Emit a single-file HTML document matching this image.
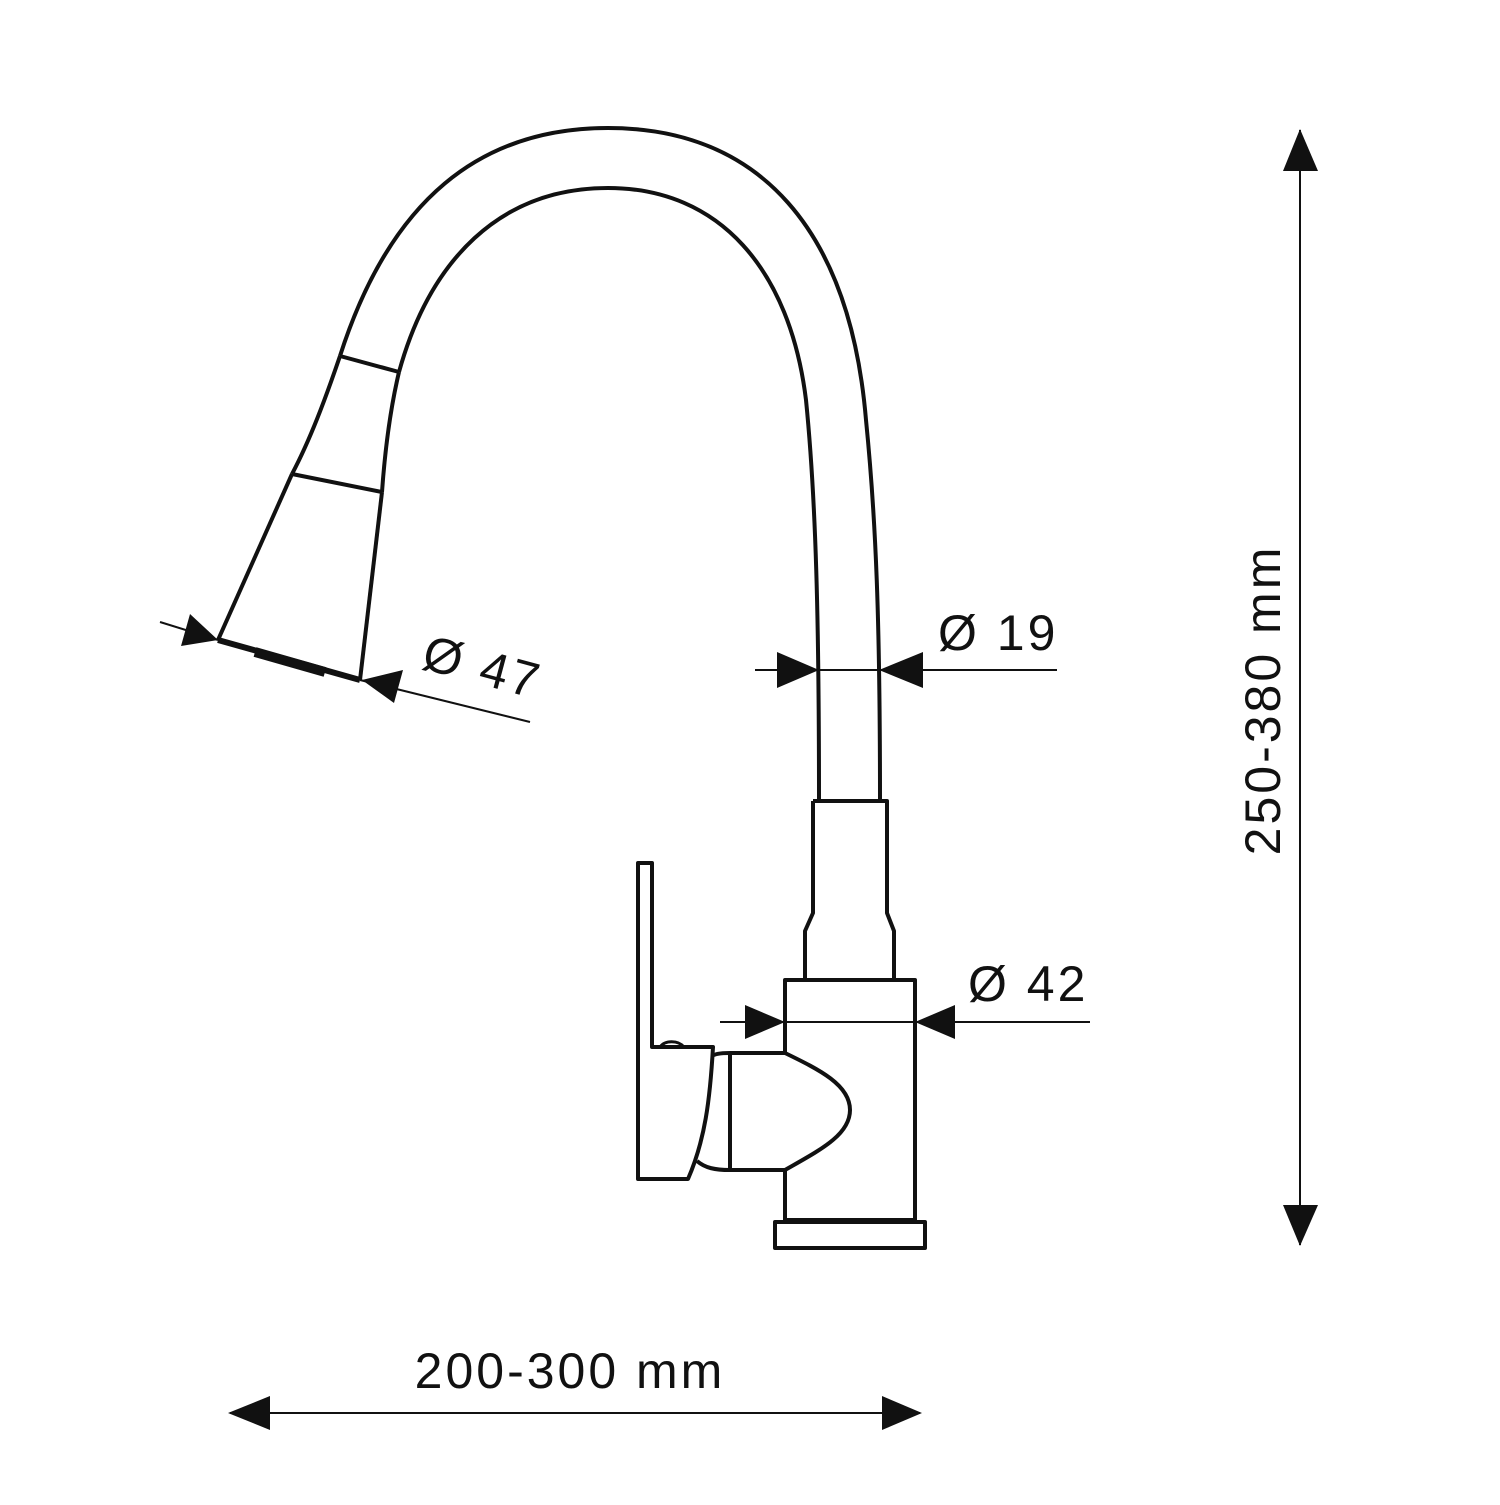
<!DOCTYPE html>
<html><head><style>html,body{margin:0;padding:0;background:#fff}</style></head>
<body>
<svg width="1500" height="1500" viewBox="0 0 1500 1500" xmlns="http://www.w3.org/2000/svg">
<rect width="1500" height="1500" fill="#fff"/>
<g fill="none" stroke="#111" stroke-width="4" stroke-linejoin="round">
  <path d="M340,356 C390,200 480,128 608,128 C760,128 850,230 866,420 C876,520 880,620 880,801"/>
  <path d="M399,372 C430,260 500,188 608,188 C720,188 790,270 806,400 C816,500 819,620 819,801"/>
  <path d="M340,356 L399,372"/>
  <path d="M340,356 C325,400 310,440 292,474"/>
  <path d="M399,372 C390,410 385,450 382,492"/>
  <path d="M292,474 L382,492"/>
  <path d="M292,474 L218,640"/>
  <path d="M382,492 L360,680"/>
  <path d="M218,640 L360,680" stroke-width="6"/>
  <path d="M255,652 L325,672" stroke-width="10"/>
  <path d="M813,801 L887,801 L887,913 L894,931 L894,980"/>
  <path d="M813,801 L813,913 L805,931 L805,980"/>
  <path d="M785,1053 L785,980 L915,980 L915,1220 L785,1220 L785,1170"/>
  <rect x="775" y="1222" width="150" height="26"/>
  <path d="M785,1053 L730,1053 C720,1053 714,1054 713,1056"/>
  <path d="M730,1055 L730,1170"/>
  <path d="M697,1161 C705,1168 715,1170 730,1170 L785,1170"/>
  <path d="M785,1053 C820,1070 850,1085 850,1110 C850,1135 820,1150 785,1170"/>
  <path d="M638,863 L652,863 L652,1047 L713,1047 C710,1100 705,1140 688,1179 L638,1179 Z"/>
  <path d="M660,1047 C665,1040 678,1040 684,1047" stroke-width="3"/>
</g>
<g fill="none" stroke="#111" stroke-width="2">
  <line x1="160" y1="622" x2="218" y2="640"/>
  <line x1="360" y1="680" x2="530" y2="722"/>
  <line x1="755" y1="670" x2="1057" y2="670"/>
  <line x1="720" y1="1022" x2="1090" y2="1022"/>
  <line x1="1300" y1="130" x2="1300" y2="1245"/>
  <line x1="230" y1="1413" x2="920" y2="1413"/>
</g>
<g fill="#111">
  <polygon points="218,640 181,646 190,614"/>
  <polygon points="362,680 394,703 403,670"/>
  <polygon points="819,670 777,652 777,688"/>
  <polygon points="879,670 923,652 923,688"/>
  <polygon points="785,1022 745,1005 745,1039"/>
  <polygon points="915,1022 955,1005 955,1039"/>
  <polygon points="1300,129 1283,171 1318,171"/>
  <polygon points="1300,1246 1283,1205 1318,1205"/>
  <polygon points="228,1413 270,1396 270,1430"/>
  <polygon points="922,1413 882,1396 882,1430"/>
</g>
<g font-family="Liberation Sans, sans-serif" font-size="50" fill="#111" letter-spacing="3">
  <text x="938" y="650">Ø 19</text>
  <text x="968" y="1001">Ø 42</text>
  <text x="570" y="1388" text-anchor="middle">200-300 mm</text>
  <text transform="translate(1280,700) rotate(-90)" text-anchor="middle">250-380 mm</text>
  <text transform="translate(420,668) rotate(15)">Ø 47</text>
</g>
</svg>
</body></html>
